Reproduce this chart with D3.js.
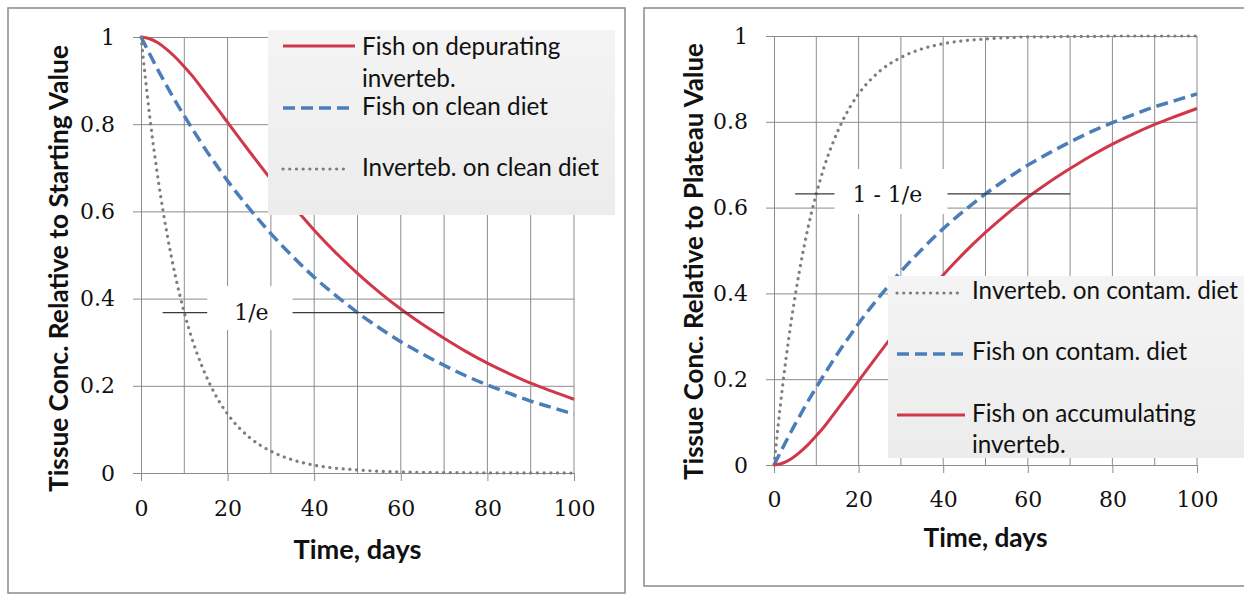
<!DOCTYPE html>
<html><head><meta charset="utf-8">
<script src="https://cdn.jsdelivr.net/npm/d3@7"></script>
<style>body{margin:0;background:#fff} svg{display:block}</style>
</head><body><svg id="c" width="1244" height="594"></svg>
<script>
// ---------- data ----------
const days = [0,2,4,6,8,10,12,14,16,18,20,25,30,35,40,45,50,55,60,65,70,75,80,85,90,95,100];
// left panel: relative to starting value
const invertClean    = [1,0.819,0.670,0.549,0.449,0.368,0.301,0.247,0.202,0.165,0.135,0.082,0.050,0.030,0.018,0.011,0.007,0.004,0.0025,0.0015,0.001,0.0006,0.0003,0.0002,0.0001,0.0001,0];
const fishClean      = [1,0.961,0.923,0.887,0.852,0.819,0.787,0.756,0.726,0.698,0.670,0.607,0.549,0.497,0.449,0.407,0.368,0.333,0.301,0.273,0.247,0.223,0.202,0.183,0.165,0.150,0.135];
const fishDepurating = [1,0.996,0.986,0.971,0.953,0.932,0.909,0.883,0.857,0.831,0.804,0.738,0.674,0.614,0.557,0.505,0.458,0.415,0.376,0.341,0.309,0.279,0.252,0.228,0.206,0.187,0.169];
// right panel: relative to plateau value
const invertContam   = [0,0.181,0.330,0.451,0.551,0.632,0.699,0.753,0.798,0.835,0.865,0.918,0.950,0.970,0.982,0.989,0.993,0.996,0.998,0.998,0.999,0.999,1,1,1,1,1];
const fishContam     = [0,0.039,0.077,0.113,0.148,0.181,0.213,0.244,0.274,0.302,0.330,0.393,0.451,0.503,0.551,0.593,0.632,0.667,0.699,0.727,0.753,0.777,0.798,0.817,0.835,0.850,0.865];
const fishAccum      = [0,0.004,0.014,0.029,0.047,0.068,0.091,0.117,0.143,0.169,0.196,0.262,0.326,0.386,0.443,0.495,0.542,0.585,0.624,0.659,0.691,0.721,0.748,0.772,0.794,0.813,0.831];

const xTicks = [0,20,40,60,80,100];
const xGrid = [10,20,30,40,50,60,70,80,90,100];
const yTicks = [0,0.2,0.4,0.6,0.8,1];
const yTickLabels = ["0","0.2","0.4","0.6","0.8","1"];

const leftNames  = ["Fish on depurating\ninverteb.","Fish on clean diet","Inverteb. on clean diet"];
const rightNames = ["Inverteb. on contam. diet","Fish on contam. diet","Fish on accumulating\ninverteb."];
const xTitle = "Time, days";
const yTitles = ["Tissue Conc. Relative to Starting Value","Tissue Conc. Relative to Plateau Value"];
const markValues = [0.368, 0.632];
const markLabels = ["1/e", "1 - 1/e"];
const markFrom = [5, 5];
const markTo = [70, 70];

// ---------- styles ----------
const RED = "#d0384a", BLUE = "#4a7dba", GRAY = "#7e7e7e";
const styles = {
  red:  {stroke: RED, width: 3, dash: null, cap: "butt"},
  blue: {stroke: BLUE, width: 3.5, dash: "12,6", cap: "butt"},
  dot:  {stroke: GRAY, width: 3.2, dash: "0.1,6.6", cap: "round"}
};
const GRID = "#8c8c8c";
const TICK_FS = 22;

const svg = d3.select("#c");

const panels = [
  { frame:[8,8,617,585], x:[141,574], y:[473,37], ttl:{xb:559, yx:68, ycap:268.5, xw:128, yw:447},
    tickLabY:516,
    series:[{v:fishDepurating, s:"red"},{v:fishClean, s:"blue"},{v:invertClean, s:"dot"}],
    names:leftNames, yTitle:yTitles[0], mark:0, markBox:[15.3,35], markBoxY:[286,330], markCx:25.5,
    legend:{rect:[268,30,347,185], sx:[283,355], sy:[46,108,169], tx:362, tb:[[55,87],[115],[176]], order:["red","blue","dot"], sxEnd:[355,355,345]} },
  { frame:[644,8,620,578], x:[774,1197], y:[465,36], ttl:{xb:547, yx:703, ycap:261.5, xw:124, yw:437},
    tickLabY:507,
    series:[{v:invertContam, s:"dot"},{v:fishContam, s:"blue"},{v:fishAccum, s:"red"}],
    names:rightNames, yTitle:yTitles[1], mark:1, markBox:[14.3,41], markBoxY:[169,214], markCx:26.8,
    legend:{rect:[888,276,370,182], sx:[897,965], sy:[293,354,415], tx:972, tb:[[299],[360],[422,453]], order:["dot","blue","red"], sxEnd:[958,965,965]} }
];

function fit(sel, target){
  const fs = parseFloat(sel.attr("font-size"));
  const w = sel.node().getComputedTextLength();
  sel.attr("font-size", fs*target/w);
}

// legend font size derived from a reference string width
const probe = svg.append("text").attr("font-family","Lato, 'Noto Sans', sans-serif").attr("font-size",20).text("Fish on clean diet");
fit(probe, 186);
const legendFS = parseFloat(probe.attr("font-size"));
probe.remove();

const defs = svg.append("defs");
const grad = defs.append("linearGradient").attr("id","lg").attr("x1",0).attr("y1",0).attr("x2",0).attr("y2",1);
grad.append("stop").attr("offset","0%").attr("stop-color","#f4f4f4");
grad.append("stop").attr("offset","100%").attr("stop-color","#ececec");

panels.forEach((p, pi) => {
  const g = svg.append("g");
  // frame
  g.append("rect").attr("x",p.frame[0]).attr("y",p.frame[1]).attr("width",p.frame[2]).attr("height",p.frame[3])
    .attr("fill","#fff").attr("stroke","#8a8a8a").attr("stroke-width",1.5);

  const x = d3.scaleLinear().domain([0,100]).range(p.x);
  const y = d3.scaleLinear().domain([0,1]).range(p.y);
  const W = p.x[1]-p.x[0];

  // vertical gridlines
  g.append("g").selectAll("line").data(xGrid).join("line")
    .attr("x1",d=>x(d)).attr("x2",d=>x(d)).attr("y1",y(0)).attr("y2",y(1))
    .attr("stroke",GRID).attr("stroke-width",1);

  // y axis with gridlines
  const ya = g.append("g").attr("transform",`translate(${p.x[0]},0)`)
    .call(d3.axisLeft(y).tickValues(yTicks).tickFormat((d,i)=>yTickLabels[i]).tickSizeInner(-W).tickSizeOuter(0).tickPadding(26));
  ya.select(".domain").attr("stroke",GRID);
  ya.selectAll(".tick line").attr("x1",-8).attr("stroke",GRID);
  ya.selectAll(".tick text").attr("font-family","'DejaVu Serif', serif").attr("font-size",TICK_FS).attr("fill","#111");

  // x axis
  const xa = g.append("g").attr("transform",`translate(0,${y(0)})`)
    .call(d3.axisBottom(x).tickValues(xTicks).tickSizeInner(8).tickSizeOuter(0));
  xa.select(".domain").attr("stroke",GRID);
  xa.selectAll(".tick line").attr("stroke",GRID);
  xa.selectAll(".tick text").attr("dy",null).attr("y",p.tickLabY - y(0))
    .attr("font-family","'DejaVu Serif', serif").attr("font-size",TICK_FS).attr("fill","#111");

  // series
  const line = d3.line().x((d,i)=>x(days[i])).y(d=>y(d)).curve(d3.curveMonotoneX);
  p.series.forEach(s => {
    const st = styles[s.s];
    g.append("path").attr("d",line(s.v)).attr("fill","none")
      .attr("stroke",st.stroke).attr("stroke-width",st.width)
      .attr("stroke-dasharray",st.dash).attr("stroke-linecap",st.cap);
  });

  // 1/e annotation
  const mv = markValues[p.mark];
  g.append("line").attr("x1",x(markFrom[p.mark])).attr("x2",x(markTo[p.mark]))
    .attr("y1",y(mv)).attr("y2",y(mv)).attr("stroke","#3a3a3a").attr("stroke-width",1.2);
  g.append("rect").attr("x",x(p.markBox[0])).attr("width",x(p.markBox[1])-x(p.markBox[0]))
    .attr("y",p.markBoxY[0]).attr("height",p.markBoxY[1]-p.markBoxY[0]).attr("fill","#fff");
  g.append("text").attr("x",x(p.markCx)).attr("y",y(mv)).attr("dy","0.35em").attr("text-anchor","middle")
    .attr("font-family","'DejaVu Serif', serif").attr("font-size",TICK_FS).attr("fill","#111")
    .text(markLabels[p.mark]);

  // legend
  const L = p.legend;
  g.append("rect").attr("x",L.rect[0]).attr("y",L.rect[1]).attr("width",L.rect[2]).attr("height",L.rect[3])
    .attr("fill","url(#lg)");
  L.order.forEach((k,i) => {
    const st = styles[k];
    g.append("line").attr("x1",L.sx[0]).attr("x2",L.sxEnd[i]).attr("y1",L.sy[i]).attr("y2",L.sy[i])
      .attr("stroke",st.stroke).attr("stroke-width",st.width).attr("stroke-dasharray",st.dash).attr("stroke-linecap",st.cap);
    p.names[i].split("\n").forEach((ln,j) => {
      g.append("text").attr("x",L.tx).attr("y",L.tb[i][j]).attr("font-family","Lato, 'Noto Sans', sans-serif")
        .attr("font-size",legendFS).attr("fill","#111").text(ln);
    });
  });

  // axis titles
  const xt = g.append("text").attr("x",(p.x[0]+p.x[1])/2).attr("y",p.ttl.xb).attr("text-anchor","middle")
    .attr("font-family","Lato, sans-serif").attr("font-weight","bold").attr("font-size",22).attr("fill","#111").text(xTitle);
  fit(xt, p.ttl.xw);
  const yt = g.append("text").attr("transform",`translate(${p.ttl.yx},${p.ttl.ycap}) rotate(-90)`).attr("text-anchor","middle")
    .attr("font-family","Lato, sans-serif").attr("font-weight","bold").attr("font-size",22).attr("fill","#111").text(p.yTitle);
  fit(yt, p.ttl.yw);
});
</script>
</body></html>
